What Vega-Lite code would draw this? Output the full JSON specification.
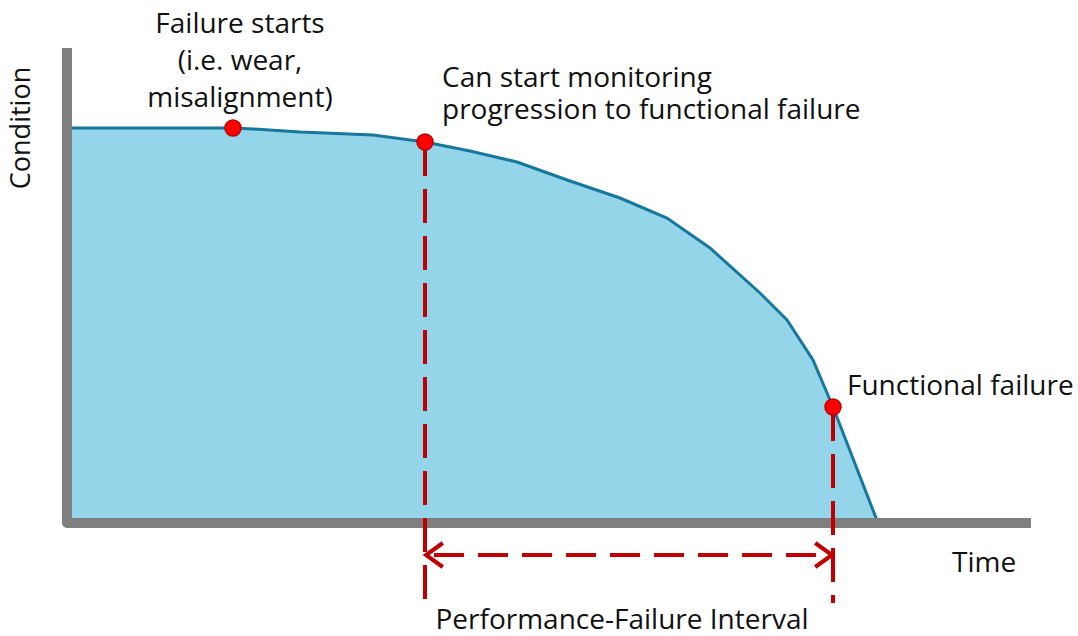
{
  "$schema": "https://vega.github.io/schema/vega-lite/v6.json",
  "width": 1078,
  "height": 636,
  "padding": 0,
  "autosize": {"type": "none"},
  "background": "#ffffff",
  "config": {"view": {"stroke": null}},
  "datasets": {
    "curve": [
      {"t": 0, "c": 395}, {"t": 133, "c": 395}, {"t": 166, "c": 395}, {"t": 186, "c": 394},
      {"t": 233, "c": 391}, {"t": 306, "c": 388}, {"t": 358, "c": 381}, {"t": 383, "c": 376},
      {"t": 403, "c": 372}, {"t": 450, "c": 361}, {"t": 503, "c": 342}, {"t": 553, "c": 325},
      {"t": 600, "c": 305}, {"t": 643, "c": 275}, {"t": 693, "c": 230}, {"t": 720, "c": 203},
      {"t": 746, "c": 163}, {"t": 766, "c": 116}, {"t": 811, "c": 0}
    ],
    "axisline": [
      {"t": 0, "c": 475, "o": 1}, {"t": 0, "c": 0, "o": 2}, {"t": 964, "c": 0, "o": 3}
    ],
    "events": [
      {"t": 166, "c": 395, "event": "Failure starts"},
      {"t": 358, "c": 381, "event": "Potential failure detectable"},
      {"t": 766, "c": 116, "event": "Functional failure"}
    ],
    "drops": [
      {"t": 358, "c": 381, "c2": -76},
      {"t": 766, "c": 116, "c2": -80}
    ],
    "interval": [{"t": 361, "t2": 763, "c": -32}],
    "heads": [
      {"t": 359, "c": -32, "dir": "left"},
      {"t": 765, "c": -32, "dir": "right"}
    ],
    "labels": [
      {"label": ["Functional failure"], "t": 780, "c": 128, "anchor": "left"},
      {"label": ["Time"], "t": 885, "c": -49, "anchor": "left"},
      {"label": ["Performance-Failure Interval"], "t": 555, "c": -106, "anchor": "center"}
    ]
  },
  "encoding": {
    "x": {"field": "t", "type": "quantitative", "scale": {"domain": [-67, 1011], "nice": false, "zero": false}, "axis": null},
    "y": {"field": "c", "type": "quantitative", "scale": {"domain": [-113, 523], "nice": false, "zero": false}, "axis": null}
  },
  "layer": [
    {
      "data": {"name": "curve"},
      "mark": {"type": "area", "color": "#94D5EA", "opacity": 1},
      "encoding": {"y2": {"datum": 0}}
    },
    {
      "data": {"name": "curve"},
      "mark": {"type": "line", "color": "#16789C", "strokeWidth": 3},
      "encoding": {}
    },
    {
      "data": {"name": "axisline"},
      "mark": {"type": "line", "color": "#7F7F7F", "strokeWidth": 10, "strokeJoin": "round", "strokeCap": "butt"},
      "encoding": {"order": {"field": "o", "type": "quantitative"}}
    },
    {
      "data": {"name": "drops"},
      "mark": {"type": "rule", "color": "#C00000", "strokeWidth": 4, "strokeDash": [34, 13]},
      "encoding": {"y2": {"field": "c2"}}
    },
    {
      "data": {"name": "interval"},
      "mark": {"type": "rule", "color": "#C00000", "strokeWidth": 4, "strokeDash": [30, 14], "strokeDashOffset": -6},
      "encoding": {"x2": {"field": "t2"}}
    },
    {
      "data": {"name": "heads"},
      "mark": {"type": "point", "filled": false, "strokeWidth": 4, "size": 576, "opacity": 1, "strokeJoin": "miter"},
      "encoding": {
        "shape": {"field": "dir", "type": "nominal", "scale": {"domain": ["left", "right"], "range": ["M1.4,-1L0,0L1.4,1", "M-1.4,-1L0,0L-1.4,1"]}, "legend": null},
        "color": {"value": "#C00000"}
      }
    },
    {
      "data": {"name": "events"},
      "mark": {"type": "point", "shape": "circle", "filled": true, "size": 256, "color": "#FF0000", "stroke": "#C00000", "strokeWidth": 1.5, "opacity": 1},
      "encoding": {}
    },
    {
      "data": {"values": [{"label": ["Failure starts", "(i.e. wear,", "misalignment)"], "t": 173, "c": 490}]},
      "mark": {"type": "text", "font": "Open Sans", "fontSize": 28, "align": "center", "baseline": "alphabetic", "lineHeight": 37, "color": "#111111"},
      "encoding": {"text": {"field": "label"}}
    },
    {
      "data": {"values": [{"label": ["Can start monitoring", "progression to functional failure"], "t": 375, "c": 436}]},
      "mark": {"type": "text", "font": "Open Sans", "fontSize": 28, "align": "left", "baseline": "alphabetic", "lineHeight": 32, "color": "#111111"},
      "encoding": {"text": {"field": "label"}}
    },
    {
      "data": {"name": "labels"},
      "transform": [{"filter": "datum.anchor == 'left'"}],
      "mark": {"type": "text", "font": "Open Sans", "fontSize": 28, "align": "left", "baseline": "alphabetic", "color": "#111111"},
      "encoding": {"text": {"field": "label"}}
    },
    {
      "data": {"name": "labels"},
      "transform": [{"filter": "datum.anchor == 'center'"}],
      "mark": {"type": "text", "font": "Open Sans", "fontSize": 28, "align": "center", "baseline": "alphabetic", "color": "#111111"},
      "encoding": {"text": {"field": "label"}}
    },
    {
      "data": {"values": [{"label": "Condition", "t": -45, "c": 395}]},
      "mark": {"type": "text", "font": "Open Sans", "fontSize": 27, "align": "center", "baseline": "middle", "angle": 270, "color": "#111111"},
      "encoding": {"text": {"field": "label"}}
    }
  ]
}
